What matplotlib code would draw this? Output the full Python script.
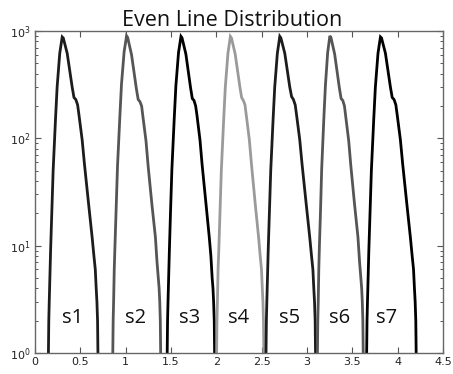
import matplotlib
matplotlib.use("Agg")
import matplotlib.pyplot as plt
from matplotlib.ticker import LogLocator, NullFormatter, FixedLocator

# ---- data ----
labels = ["s1", "s2", "s3", "s4", "s5", "s6", "s7"]
colors = ["#1c1c1c", "#555555", "#000000", "#9a9a9a", "#1c1c1c", "#555555", "#000000"]

x1 = [0.145, 0.148, 0.152, 0.157, 0.164, 0.172, 0.185, 0.200, 0.226, 0.244, 0.273, 0.300, 0.312, 0.355, 0.410, 0.430, 0.450, 0.470, 0.485, 0.520, 0.545, 0.590, 0.630, 0.650, 0.665, 0.675, 0.683, 0.690, 0.694, 0.698]
y1 = [0, 1, 2, 3, 5, 9, 20, 50, 150, 300, 620, 880, 860, 620, 300, 240, 230, 205, 165, 97, 58, 25, 12, 8, 6, 4, 3, 2, 1, 0]

x2 = [0.855, 0.858, 0.862, 0.867, 0.874, 0.882, 0.895, 0.910, 0.936, 0.954, 0.983, 1.010, 1.022, 1.065, 1.118, 1.138, 1.157, 1.176, 1.190, 1.224, 1.248, 1.290, 1.328, 1.346, 1.360, 1.369, 1.376, 1.382, 1.386, 1.390]
y2 = [0, 1, 2, 3, 6, 10, 22, 55, 160, 320, 640, 900, 870, 600, 290, 230, 220, 200, 160, 95, 55, 24, 12, 7, 5, 4, 3, 2, 1, 0]

x3 = [1.455, 1.458, 1.462, 1.467, 1.474, 1.482, 1.495, 1.510, 1.536, 1.554, 1.583, 1.610, 1.622, 1.664, 1.716, 1.735, 1.754, 1.772, 1.786, 1.820, 1.843, 1.885, 1.922, 1.940, 1.954, 1.963, 1.970, 1.977, 1.981, 1.985]
y3 = [0, 1, 2, 3, 5, 9, 21, 52, 155, 310, 630, 890, 860, 610, 295, 235, 225, 200, 165, 96, 57, 25, 12, 8, 5, 4, 3, 2, 1, 0]

x4 = [2.000, 2.003, 2.007, 2.012, 2.019, 2.027, 2.040, 2.055, 2.081, 2.099, 2.128, 2.155, 2.167, 2.208, 2.260, 2.279, 2.298, 2.316, 2.330, 2.364, 2.387, 2.428, 2.466, 2.484, 2.498, 2.507, 2.514, 2.520, 2.524, 2.528]
y4 = [0, 1, 2, 3, 6, 9, 20, 50, 150, 300, 620, 890, 860, 610, 300, 240, 225, 205, 165, 97, 58, 25, 12, 8, 6, 4, 3, 2, 1, 0]

x5 = [2.545, 2.548, 2.552, 2.557, 2.564, 2.572, 2.585, 2.600, 2.626, 2.644, 2.673, 2.700, 2.712, 2.755, 2.810, 2.830, 2.850, 2.870, 2.885, 2.920, 2.945, 2.990, 3.030, 3.050, 3.065, 3.075, 3.083, 3.090, 3.094, 3.098]
y5 = [0, 1, 2, 3, 5, 9, 20, 50, 150, 300, 620, 890, 860, 620, 300, 245, 230, 205, 165, 97, 58, 25, 12, 8, 6, 4, 3, 2, 1, 0]

x6 = [3.112, 3.115, 3.119, 3.124, 3.130, 3.137, 3.149, 3.162, 3.186, 3.203, 3.228, 3.252, 3.264, 3.305, 3.357, 3.376, 3.395, 3.413, 3.427, 3.460, 3.483, 3.525, 3.562, 3.580, 3.594, 3.603, 3.610, 3.616, 3.620, 3.624]
y6 = [0, 1, 2, 3, 6, 10, 21, 52, 155, 310, 630, 900, 870, 610, 295, 235, 225, 200, 160, 95, 56, 24, 12, 7, 5, 4, 3, 2, 1, 0]

x7 = [3.655, 3.658, 3.662, 3.667, 3.674, 3.682, 3.695, 3.710, 3.736, 3.754, 3.783, 3.810, 3.822, 3.865, 3.920, 3.940, 3.960, 3.980, 3.995, 4.030, 4.055, 4.100, 4.140, 4.160, 4.175, 4.185, 4.193, 4.200, 4.204, 4.208]
y7 = [0, 1, 2, 3, 5, 9, 20, 50, 150, 300, 620, 880, 860, 620, 300, 240, 230, 205, 165, 97, 58, 25, 12, 8, 6, 4, 3, 2, 1, 0]

label_x = [0.41, 1.11, 1.71, 2.25, 2.81, 3.36, 3.88]
label_y = 2.1

xticks = [0, 0.5, 1, 1.5, 2, 2.5, 3, 3.5, 4, 4.5]
xticklabels = ["0", "0.5", "1", "1.5", "2", "2.5", "3", "3.5", "4", "4.5"]
title = "Even Line Distribution"

# ---- plot ----
fig = plt.figure(figsize=(4.53, 3.74), dpi=100)
ax = fig.add_axes([35 / 453, 1 - 353 / 374, (443 - 35) / 453, (353 - 31) / 374])

xs = [x1, x2, x3, x4, x5, x6, x7]
ys = [y1, y2, y3, y4, y5, y6, y7]
for x, y, c in zip(xs, ys, colors):
    ax.plot(x, y, color=c, lw=2.0, solid_joinstyle="miter")

ax.set_yscale("log", nonpositive="clip")
ax.set_xlim(0, 4.5)
ax.set_ylim(1, 1000)

ax.xaxis.set_major_locator(FixedLocator(xticks))
ax.set_xticklabels(xticklabels)
ax.yaxis.set_major_locator(LogLocator(base=10, numticks=10))
ax.yaxis.set_minor_locator(LogLocator(base=10, subs=range(2, 10), numticks=20))
ax.yaxis.set_minor_formatter(NullFormatter())

ax.tick_params(which="both", direction="in", top=True, right=True,
               labelsize=8, colors="#222222", pad=3)
ax.tick_params(which="major", length=4, width=0.8, color="#555555")
ax.tick_params(which="minor", length=2.5, width=0.7, color="#555555")
for s in ax.spines.values():
    s.set_color("#666666")
    s.set_linewidth(1.0)

font = ["Open Sans", "DejaVu Sans"]
for lx, lab in zip(label_x, labels):
    ax.text(lx, label_y, lab, fontsize=14.5, family=font, ha="center", va="center", color="#111111")

ax.set_title(title, fontsize=15.5, family=font, pad=2, color="#111111", x=0.484)

fig.savefig("out.png", dpi=100)
